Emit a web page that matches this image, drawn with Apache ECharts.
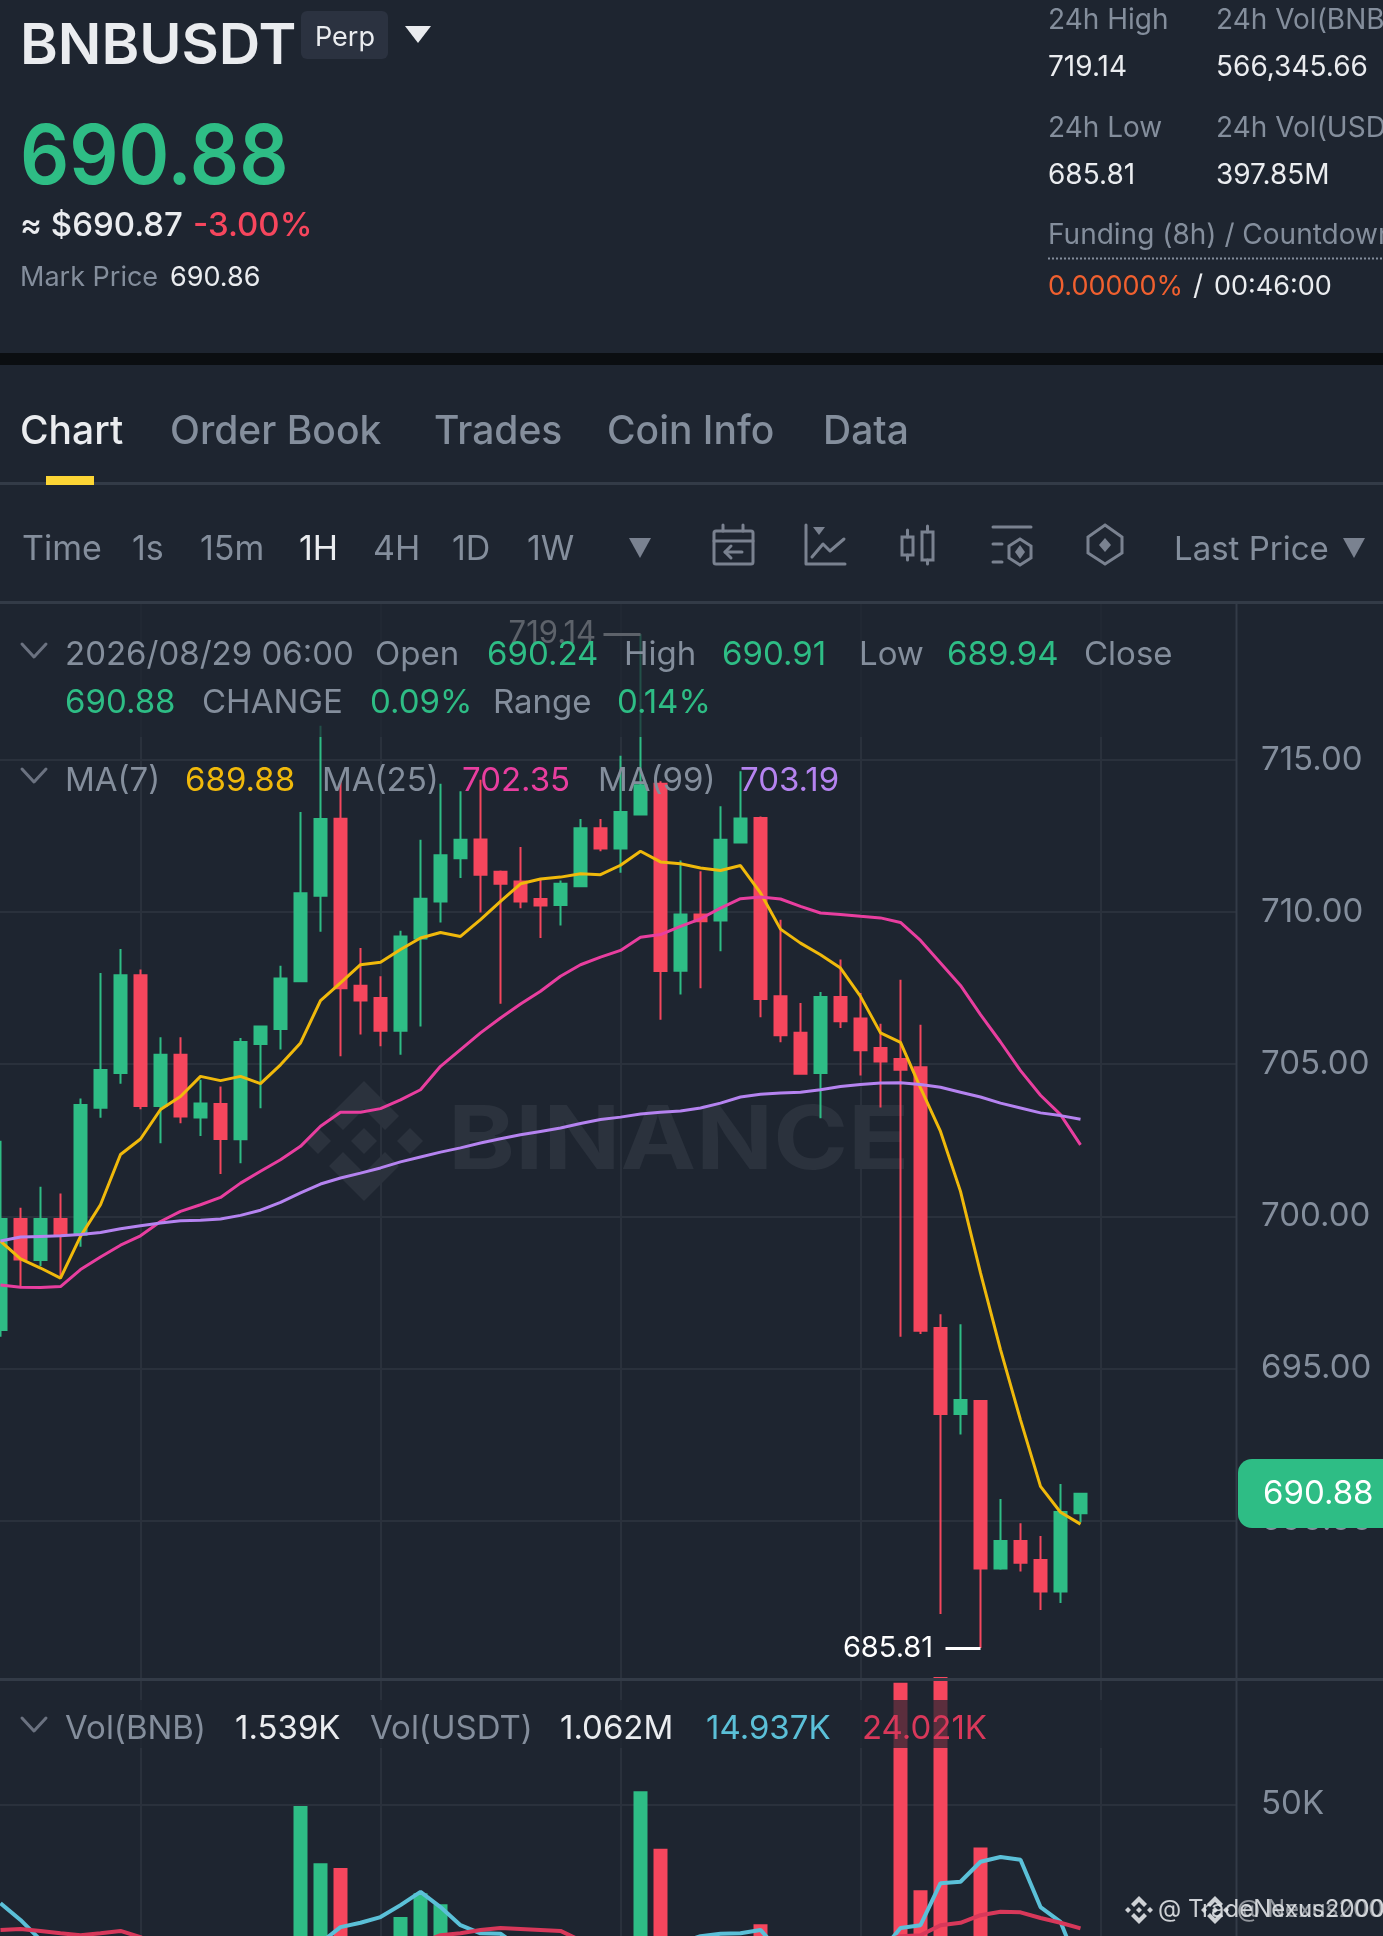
<!DOCTYPE html>
<html><head><meta charset="utf-8">
<style>html,body{margin:0;padding:0;background:#1e2530}#c{width:1383px;height:1936px}</style>
<script src="https://cdn.jsdelivr.net/npm/echarts@6/dist/echarts.min.js"></script>
</head><body><div id="c"></div>
<script>
const opens=[696.26,699.91,698.56,699.91,699.39,703.57,704.71,707.92,703.63,705.31,703.25,703.69,702.53,705.66,706.16,707.73,710.54,713.07,707.58,707.18,706.10,709.13,710.35,711.77,712.39,711.33,711.01,710.43,710.23,710.85,712.76,712.09,713.21,714.22,708.07,709.92,709.72,712.29,713.09,707.23,706.03,704.71,707.21,706.50,705.53,705.17,704.90,696.33,693.50,693.93,688.42,689.33,688.70,687.67,690.24];
const closes=[699.91,698.58,699.91,699.39,703.66,704.81,707.92,703.63,705.31,703.28,703.71,702.54,705.73,706.24,707.82,710.62,713.06,707.50,707.09,706.10,709.20,710.44,711.87,712.38,711.23,710.93,710.35,710.22,710.93,712.76,712.09,713.29,714.17,708.06,709.92,709.70,712.38,713.08,707.14,705.95,704.69,707.21,706.41,705.46,705.09,704.82,696.24,693.50,693.96,688.42,689.33,688.61,687.67,690.28,690.88];
const lows=[696.04,697.71,698.37,697.96,699.00,703.24,704.36,703.52,702.40,703.06,702.64,701.39,701.74,703.55,705.48,707.73,709.35,705.26,705.98,705.59,705.31,706.24,709.66,711.12,709.99,706.99,710.13,709.15,709.56,710.85,712.00,711.29,713.21,706.46,707.29,707.50,708.71,712.29,706.54,705.72,704.65,703.22,706.19,704.63,703.58,696.04,696.13,686.93,692.83,685.81,688.38,688.32,687.06,687.29,689.94];
const highs=[702.48,700.28,700.97,700.75,703.87,708.00,708.79,708.11,705.89,705.89,704.49,704.27,705.86,706.24,708.24,713.29,716.13,714.30,708.82,707.89,709.39,712.38,714.22,713.97,714.35,711.37,712.14,711.07,711.04,713.06,713.06,715.14,719.14,714.30,711.70,711.34,713.48,714.63,713.14,709.75,707.01,707.37,708.44,707.34,706.33,707.78,706.30,696.78,696.45,693.96,690.71,689.91,689.49,691.20,690.91];
const ma7=[699.18,698.60,698.30,697.97,699.34,700.38,702.03,702.54,703.51,703.94,704.60,704.46,704.60,704.36,704.98,705.70,707.09,707.67,708.27,708.35,708.77,709.15,709.33,709.20,709.75,710.35,710.93,711.09,711.15,711.26,711.23,711.54,712.00,711.65,711.59,711.45,711.37,711.53,710.63,709.44,708.98,708.60,708.16,707.23,706.03,705.72,704.22,702.79,700.82,698.14,695.62,693.31,691.12,690.27,689.88];
const ma25=[697.74,697.67,697.66,697.69,698.25,698.66,699.05,699.36,699.83,700.16,700.38,700.62,701.09,701.48,701.86,702.30,702.96,703.42,703.42,703.54,703.83,704.16,704.93,705.48,706.03,706.52,706.98,707.40,707.89,708.27,708.52,708.74,709.17,709.26,709.53,709.78,710.13,710.44,710.50,710.43,710.19,709.97,709.92,709.86,709.81,709.66,709.07,708.33,707.59,706.63,705.73,704.79,703.98,703.34,702.35];
const ma99=[699.19,699.32,699.34,699.36,699.40,699.47,699.59,699.69,699.78,699.85,699.87,699.91,700.03,700.20,700.46,700.77,701.06,701.26,701.42,701.59,701.79,701.95,702.11,702.25,702.41,702.55,702.68,702.79,702.90,703.05,703.18,703.26,703.36,703.42,703.46,703.56,703.72,703.92,704.01,704.05,704.08,704.16,704.27,704.33,704.38,704.39,704.33,704.24,704.08,703.92,703.72,703.56,703.40,703.31,703.19];
const volume=[15,18,12,9,20,16,14,11,19,13,8,10,17,9,21,49.7,37.7,36.7,12,14,26.4,31.4,29.1,10,7,6,12,8,5,20,9,18,52.8,40.7,9,8,14,11,24.9,7,6,9,10,12,16,75.5,32,78,12,41,20,17,7,15,1.54];
const volMA5=[29.3,25.8,21.6,18,17,16,15,14,15,14,14,13,12,13,15,19,21,24.3,25.2,26.4,28.9,31.7,28.5,24.7,23,22.9,20,18,15,14,13,15,20,21,21,22.4,22.9,23,23.7,19,14,12,11,11,19,24.1,24.7,33.5,33.8,38,39,38.4,28.5,25.4,14.94];
const volMA10=[23.7,23.9,23.5,23,22.6,23,23.5,22.2,20,19,18,17,17,17,18,19,19,20,20,20,20,21,22.6,23,23.7,24.1,23.9,23.7,23.5,21.5,20,20,20,20,20,20,20,20,20,20,20,20,20,20,21,22.4,22.6,24.7,25.2,26.8,27.5,27.4,26.2,25.2,24.02];
const priceTicks=[690,695,700,705,710,715];
const volTicks=[50];
const timeTicks=[7,19,31,43,55];
const highMark=[32,719.14];
const lowMark=[49,685.81];

const BG='#1e2530',GRID='#2a313c',SEP='#333b47',GREY='#848e9c',UP='#2ebd85',DN='#f6465d',WHITE='#eaecef';
const FONT='Inter';
const idx=opens.map((_,i)=>i);
const up=i=>closes[i]>=opens[i];
function T(text,x,y,size,fill,weight,z,scaleX){return {type:'text',z:z||20,x:x,y:y+2,scaleX:scaleX||1,style:{text:text,fill:fill||GREY,font:(weight||400)+' '+size+'px '+FONT,verticalAlign:'middle',align:'left'}};}
function R(x,y,w,h,fill,z,r){return {type:'rect',z:z||10,shape:{x:x,y:y,width:w,height:h,r:r||0},style:{fill:fill}};}
function Poly(points,fill,z){return {type:'polygon',z:z||20,shape:{points:points},style:{fill:fill}};}
function Line(points,stroke,w,z){return {type:'polyline',z:z||20,shape:{points:points},style:{stroke:stroke,lineWidth:w||3,fill:'none',lineJoin:'round',lineCap:'round'}};}
const G=[];
// header
G.push(R(0,353,1383,12,'#0b0e11'));
G.push(T('BNBUSDT',20,45,56,WHITE,600,20,1.025));
G.push(R(301,11,87,48,'#2b3240',10,6));
G.push(T('Perp',315,36,27,WHITE));
G.push(Poly([[405,26],[431,26],[418,43]],WHITE));
G.push(T('690.88',20,157,82,UP,600,20,0.94));
G.push(T('≈ $690.87',20,224,33,WHITE,500));
G.push(T('-3.00%',193,224,33,DN,500));
G.push(T('Mark Price',20,276,27,GREY));
G.push(T('690.86',170,276,27,WHITE));
G.push(T('24h High',1048,19,28,GREY));
G.push(T('24h Vol(BNB)',1216,19,28,GREY));
G.push(T('719.14',1048,66,28,WHITE));
G.push(T('566,345.66',1216,66,28,WHITE));
G.push(T('24h Low',1048,127,28,GREY));
G.push(T('24h Vol(USDT)',1216,127,28,GREY));
G.push(T('685.81',1048,174,28,WHITE));
G.push(T('397.85M',1216,174,28,WHITE));
G.push(T('Funding (8h) / Countdown',1048,234,28,GREY));
G.push({type:'line',z:20,shape:{x1:1048,y1:258.5,x2:1383,y2:258.5},style:{stroke:GREY,lineWidth:2,lineDash:[2,2]}});
G.push(T('0.00000%',1048,285,27,'#f0602f'));
G.push(T('/',1193,285,28,WHITE));
G.push(T('00:46:00',1214,285,27,WHITE));
// tabs
G.push(R(0,482,1383,3,SEP));
G.push(R(46,476,48,9,'#fcd535',11));
[['Chart',20,WHITE],['Order Book',170,GREY],['Trades',434,GREY],['Coin Info',607,GREY],['Data',823,GREY]].forEach(a=>G.push(T(a[0],a[1],430,39,a[2],500)));
[['Time',22,GREY],['1s',132,GREY],['15m',200,GREY],['1H',299,WHITE],['4H',373,GREY],['1D',452,GREY],['1W',527,GREY]].forEach(a=>G.push(T(a[0],a[1],548,34,a[2])));
G.push(T('Last Price',1174,548,33,GREY));
const IC='#7a8290';
G.push(Poly([[629,538],[651,538],[640,558]],IC));
G.push(Poly([[1343,538],[1365,538],[1354,558]],IC));
// calendar icon
G.push({type:'rect',z:20,shape:{x:714,y:531,width:39,height:33,r:2},style:{stroke:IC,lineWidth:3,fill:'none'}});
G.push(Line([[714,541],[753,541]],IC));G.push(Line([[723,525],[723,531]],IC));G.push(Line([[743,525],[743,531]],IC));
G.push(Line([[742,552],[725,552]],IC));G.push(Line([[731,546],[725,552],[731,558]],IC));
// chart icon
G.push(Line([[806,525],[806,564],[845,564]],IC));G.push(Poly([[813,527],[825,527],[819,535]],IC));
G.push(Line([[812,557],[823,544],[830,551],[844,539]],IC));
// candles icon
G.push({type:'rect',z:20,shape:{x:902,y:537,width:11,height:18},style:{stroke:IC,lineWidth:3,fill:'none'}});
G.push(Line([[907.5,530],[907.5,537]],IC));G.push(Line([[907.5,555],[907.5,560]],IC));
G.push({type:'rect',z:20,shape:{x:922,y:532,width:11,height:28},style:{stroke:IC,lineWidth:3,fill:'none'}});
G.push(Line([[927.5,526],[927.5,532]],IC));G.push(Line([[927.5,560],[927.5,564]],IC));
// settings icon
G.push(Line([[993,527],[1031,527]],IC));G.push(Line([[993,544],[1002,544]],IC));G.push(Line([[993,562],[1002,562]],IC));
G.push({type:'polygon',z:20,shape:{points:[[1020,539],[1031,546],[1031,558],[1020,565],[1009,558],[1009,546]]},style:{stroke:IC,lineWidth:3,fill:'none'}});
G.push(Poly([[1020,545],[1025,552],[1020,559],[1015,552]],IC));
// hexagon icon
G.push({type:'polygon',z:20,shape:{points:[[1105,525],[1122,537],[1122,553],[1105,564],[1088,553],[1088,537]]},style:{stroke:IC,lineWidth:3,fill:'none'}});
G.push(Poly([[1105,538],[1111,545],[1105,552],[1099,545]],IC));
// panel frame
G.push(R(0,601,1383,3,SEP));
G.push(R(1235.5,603,2,1333,SEP,3));
// watermark
const WM='#2b323d',cx=364,cy=1141,mk=(dx,dy,h)=>[[cx+dx,cy+dy-h],[cx+dx+h,cy+dy],[cx+dx,cy+dy+h],[cx+dx-h,cy+dy]];
G.push(Poly(mk(0,0,13),WM,1));G.push(Poly(mk(-46,0,13),WM,1));G.push(Poly(mk(46,0,13),WM,1));
G.push(Poly([[cx,cy-60],[cx+35,cy-25],[cx+21,cy-11],[cx,cy-32],[cx-21,cy-11],[cx-35,cy-25]],WM,1));
G.push(Poly([[cx,cy+60],[cx+35,cy+25],[cx+21,cy+11],[cx,cy+32],[cx-21,cy+11],[cx-35,cy+25]],WM,1));
G.push(T('BINANCE',448,1141,88,WM,700,1,1.15));
// legend overlay
G.push(R(0,604,1235,133,'rgba(30,37,48,0.72)',15));
G.push(R(0,1700,1235,48,'rgba(30,37,48,0.72)',15));
function Chev(y){return Line([[22,y-7],[34,y+6],[46,y-7]],'#6b7280',3);}
G.push(Chev(651));G.push(Chev(776));G.push(Chev(1725));
[['2026/08/29 06:00',65,GREY],['Open',375,GREY],['690.24',487,UP],['High',624,GREY],['690.91',722,UP],['Low',859,GREY],['689.94',947,UP],['Close',1084,GREY]].forEach(a=>G.push(T(a[0],a[1],653,33,a[2])));
[['690.88',65,UP],['CHANGE',202,GREY],['0.09%',370,UP],['Range',493,GREY],['0.14%',617,UP]].forEach(a=>G.push(T(a[0],a[1],701,33,a[2])));
[['MA(7)',65,GREY],['689.88',185,'#f0b90b'],['MA(25)',322,GREY],['702.35',462,'#e83e9f'],['MA(99)',598,GREY],['703.19',740,'#b583f0']].forEach(a=>G.push(T(a[0],a[1],779,33,a[2])));
[['Vol(BNB)',65,GREY],['1.539K',235,WHITE],['Vol(USDT)',370,GREY],['1.062M',560,WHITE],['14.937K',706,'#5bc0d8'],['24.021K',862,'#d8385a']].forEach(a=>G.push(T(a[0],a[1],1727,33,a[2])));
// price tag
G.push({type:'rect',z:25,shape:{x:1238,y:1459,width:160,height:69,r:14},style:{fill:UP}});
G.push(T('690.88',1263,1492,33,'#fff',400,26));
// separator
G.push(R(0,1678,1383,3,SEP,12));
// footer marks
const wmF='rgba(225,228,232,0.9)';
function Lg(c,y){const s=(dx,dy,h)=>[[c+dx,y+dy-h],[c+dx+h,y+dy],[c+dx,y+dy+h],[c+dx-h,y+dy]];
 G.push(Poly(s(0,0,3),wmF,30));G.push(Poly(s(-11,0,3),wmF,30));G.push(Poly(s(11,0,3),wmF,30));
 G.push(Poly([[c,y-14],[c+8,y-6],[c+5,y-3],[c,y-8],[c-5,y-3],[c-8,y-6]],wmF,30));
 G.push(Poly([[c,y+14],[c+8,y+6],[c+5,y+3],[c,y+8],[c-5,y+3],[c-8,y+6]],wmF,30));}
Lg(1139,1910);Lg(1215,1910);
G.push(T('@ TradeNexus2000',1158,1908,24,wmF,400,30));
G.push(T('@ Nexus2000',1237,1908,24,'rgba(225,228,232,0.6)',400,30));

const L=-0.5,PX=20,W=1237,xMin=(0-L)/PX*-1,xMax=xMin+W/PX;
const xAxisBase={type:'value',min:xMin,max:xMax,axisLine:{show:false},axisLabel:{show:false},
  axisTick:{show:false,customValues:timeTicks},splitLine:{show:true,lineStyle:{color:GRID,width:2}}};
const yLabel={fontFamily:FONT,fontSize:33,color:GREY,margin:24,align:'left'};
const P_TOP=603,P_BOT=1678,PXU=30.42;
const option={animation:false,backgroundColor:BG,graphic:{elements:G},
 grid:[{left:0,top:P_TOP,width:W,height:P_BOT-P_TOP,containLabel:false,outerBoundsMode:'none'},
       {left:0,top:1677,width:W,height:366,containLabel:false,outerBoundsMode:'none'}],
 xAxis:[Object.assign({gridIndex:0},xAxisBase),Object.assign({gridIndex:1},xAxisBase)],
 yAxis:[
  {gridIndex:0,type:'value',position:'right',min:715-(P_BOT-760)/PXU,max:715+(760-P_TOP)/PXU,scale:true,
   axisLine:{show:false},axisTick:{show:false,customValues:priceTicks},
   axisLabel:Object.assign({customValues:priceTicks,formatter:v=>Number(v).toFixed(2)},yLabel),
   splitLine:{show:true,lineStyle:{color:GRID,width:2}}},
  {gridIndex:1,type:'value',position:'right',min:0,max:366/4.77,
   axisLine:{show:false},axisTick:{show:false,customValues:volTicks},
   axisLabel:Object.assign({customValues:volTicks,formatter:v=>v+'K'},yLabel),
   splitLine:{show:true,lineStyle:{color:GRID,width:2}}}
 ],
 series:[
  {type:'candlestick',xAxisIndex:0,yAxisIndex:0,barWidth:12,z:3,
   encode:{x:0,y:[1,2,3,4]},
   data:idx.map(i=>[i,opens[i],closes[i],lows[i],highs[i]]),
   itemStyle:{color:UP,color0:DN,borderColor:UP,borderColor0:DN,borderWidth:2},
   markPoint:{silent:true,symbol:'circle',symbolSize:0,data:[
     {coord:[highMark[0]-2.22,highMark[1]],label:{show:true,position:'left',distance:0,formatter:highMark[1].toFixed(2),color:'#ffffff',fontFamily:FONT,fontSize:31}},
     {coord:[lowMark[0]-2.37,lowMark[1]],label:{show:true,position:'left',distance:0,formatter:lowMark[1].toFixed(2),color:'#ffffff',fontFamily:FONT,fontSize:29}}]},
   markLine:{silent:true,symbol:'none',label:{show:false},lineStyle:{color:'#ffffff',type:'solid',width:3},data:[
     [{coord:[highMark[0]-1.85,highMark[1]]},{coord:[highMark[0],highMark[1]]}],
     [{coord:[lowMark[0]-1.75,lowMark[1]]},{coord:[lowMark[0],lowMark[1]]}]]}},
  {type:'line',xAxisIndex:0,yAxisIndex:0,z:4,showSymbol:false,data:idx.map(i=>[i,ma7[i]]),lineStyle:{color:'#f0b90b',width:3}},
  {type:'line',xAxisIndex:0,yAxisIndex:0,z:4,showSymbol:false,data:idx.map(i=>[i,ma25[i]]),lineStyle:{color:'#e83e9f',width:3}},
  {type:'line',xAxisIndex:0,yAxisIndex:0,z:4,showSymbol:false,data:idx.map(i=>[i,ma99[i]]),lineStyle:{color:'#b583f0',width:3}},
  {type:'bar',xAxisIndex:1,yAxisIndex:1,barWidth:14,z:3,data:idx.map(i=>({value:[i,volume[i]],itemStyle:{color:up(i)?UP:DN}}))},
  {type:'line',xAxisIndex:1,yAxisIndex:1,z:4,showSymbol:false,data:idx.map(i=>[i,volMA5[i]]),lineStyle:{color:'#5bc0d8',width:4}},
  {type:'line',xAxisIndex:1,yAxisIndex:1,z:4,showSymbol:false,data:idx.map(i=>[i,volMA10[i]]),lineStyle:{color:'#d8385a',width:4}}
 ]};
const chart=echarts.init(document.getElementById('c'),null,{renderer:'canvas',width:1383,height:1936});
chart.setOption(option);
</script></body></html>
